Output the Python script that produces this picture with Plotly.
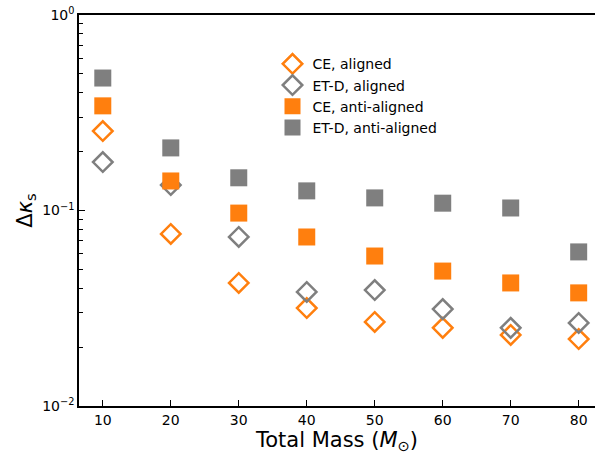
import plotly.graph_objects as go

mass = [10, 20, 30, 40, 50, 60, 70, 80]
ce_aligned = [0.255, 0.0759, 0.0426, 0.0317, 0.0269, 0.0251, 0.0231, 0.0220]
etd_aligned = [0.177, 0.135, 0.0732, 0.0383, 0.0392, 0.0313, 0.0251, 0.0266]
ce_anti = [0.343, 0.1416, 0.097, 0.0732, 0.0585, 0.049, 0.0426, 0.0379]
etd_anti = [0.476, 0.209, 0.147, 0.126, 0.116, 0.109, 0.103, 0.0614]

xticks = [10, 20, 30, 40, 50, 60, 70, 80]
ytick_vals = [0.01, 0.1, 1]
ytick_text = ["10<sup>\u22122</sup>", "10<sup>\u22121</sup>", "10<sup>0</sup>"]

ORANGE = "#ff7f0e"
GRAY = "#7f7f7f"

fig = go.Figure()
fig.add_trace(go.Scatter(x=mass, y=ce_aligned, mode="markers", name="CE, aligned",
                         marker=dict(symbol="diamond-open", size=15, color=ORANGE, line=dict(width=2.5, color=ORANGE))))
fig.add_trace(go.Scatter(x=mass, y=etd_aligned, mode="markers", name="ET-D, aligned",
                         marker=dict(symbol="diamond-open", size=15, color=GRAY, line=dict(width=2.5, color=GRAY))))
fig.add_trace(go.Scatter(x=mass, y=ce_anti, mode="markers", name="CE, anti-aligned",
                         marker=dict(symbol="square", size=17, color=ORANGE, line=dict(width=0))))
fig.add_trace(go.Scatter(x=mass, y=etd_anti, mode="markers", name="ET-D, anti-aligned",
                         marker=dict(symbol="square", size=17, color=GRAY, line=dict(width=0))))

minor_vals = [m * 10 ** e for e in (-2, -1) for m in range(2, 10)]

fig.update_layout(
    width=595, height=454,
    margin=dict(l=79, r=0, t=15, b=48),
    paper_bgcolor="white", plot_bgcolor="white",
    font=dict(family="DejaVu Sans", size=14, color="black"),
    showlegend=True,
    legend=dict(x=0.375, y=0.915, xanchor="left", yanchor="top",
                bgcolor="rgba(0,0,0,0)", font=dict(size=14), itemsizing="trace",
                tracegroupgap=0),
)
fig.update_xaxes(range=[6.5, 82.4], tickvals=xticks, ticks="inside", ticklen=6,
                 tickcolor="black", showline=True, linecolor="black", linewidth=1.5,
                 mirror=True, showgrid=False, zeroline=False,
                 title=dict(text="Total Mass (<i>M</i><sub>\u2299</sub>)", font=dict(size=21), standoff=6),
                 tickfont=dict(size=14))
fig.update_yaxes(type="log", range=[-2, 0], tickvals=ytick_vals, ticktext=ytick_text,
                 ticks="inside", ticklen=6, tickcolor="black", showline=True,
                 linecolor="black", linewidth=1.5, showgrid=False, zeroline=False,
                 minor=dict(tickvals=minor_vals, ticks="inside", ticklen=4, tickcolor="black", showgrid=False),
                 title=dict(text="\u0394<i>\u03ba</i><sub>s</sub>", font=dict(size=21), standoff=4),
                 tickfont=dict(size=14))

fig.write_html("out.html")
